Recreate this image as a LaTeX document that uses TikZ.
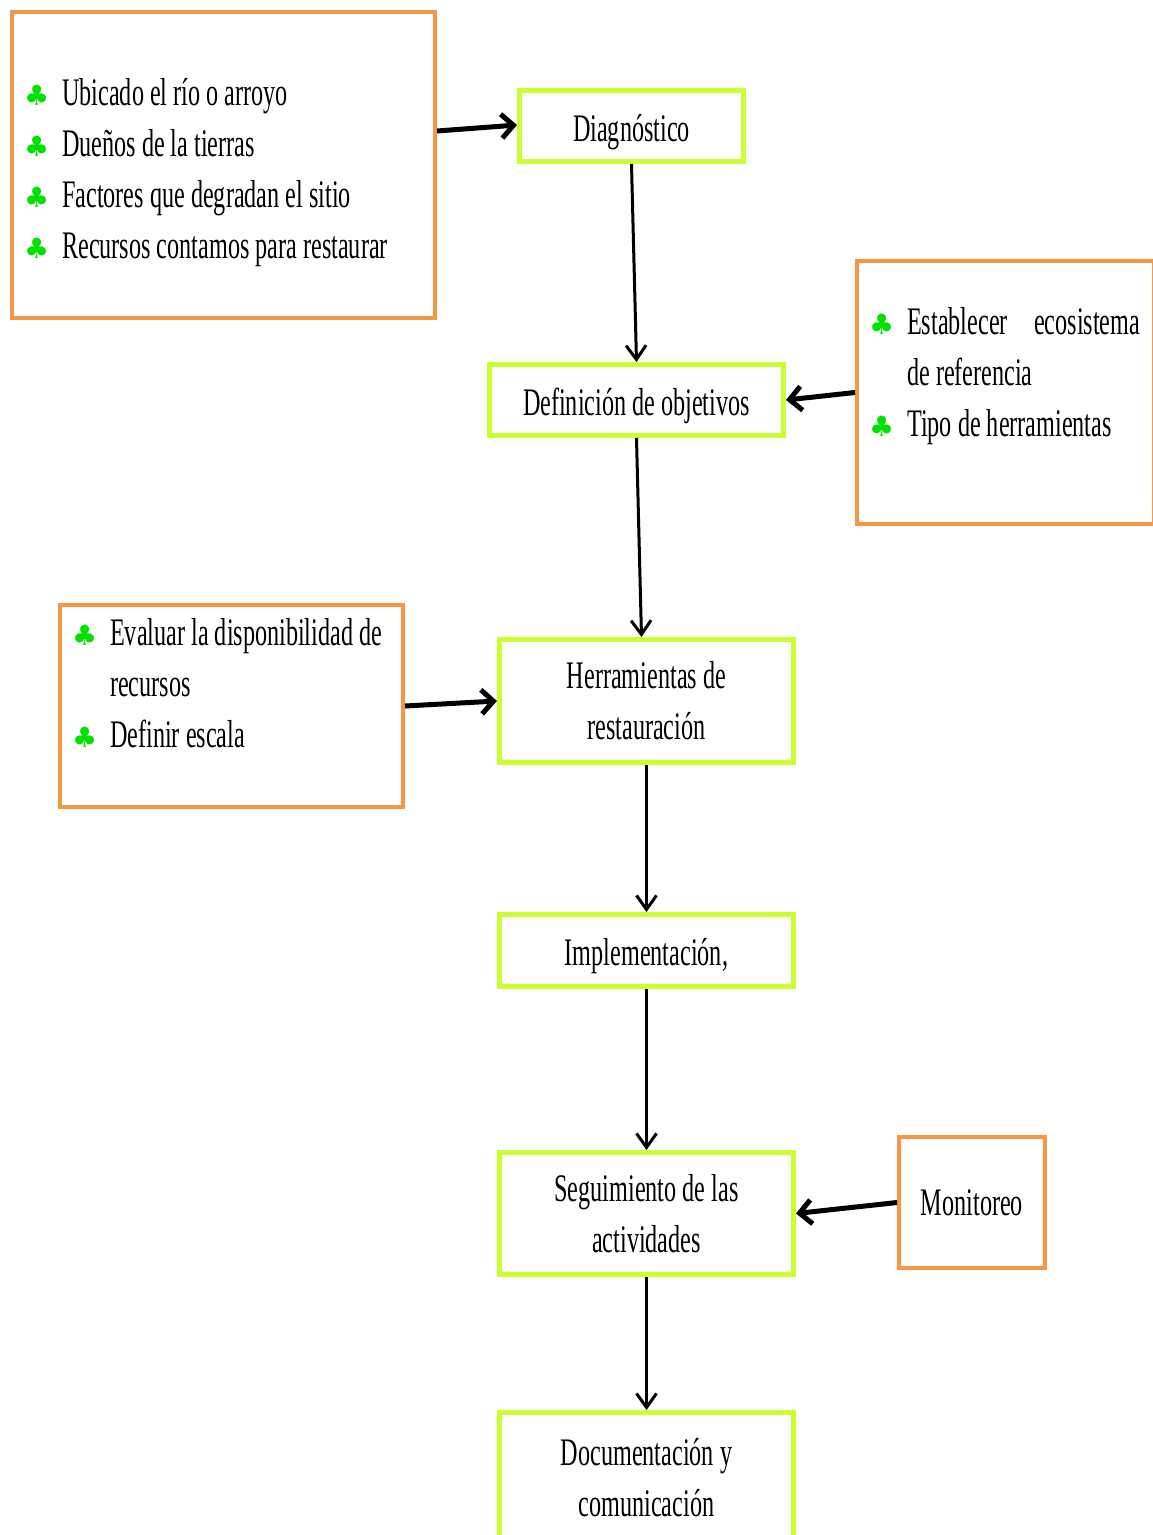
\documentclass[tikz,border=0pt]{standalone}
\usepackage{fontspec}
\setmainfont{Liberation Serif}[FakeStretch=0.62]
\newfontfamily\simbolos{DejaVu Sans}
\usepackage{array}
\usetikzlibrary{arrows.meta,positioning,calc}

\definecolor{naranja}{RGB}{247,150,70}
\definecolor{lima}{RGB}{204,255,51}
\definecolor{trebol}{RGB}{0,225,0}
\newcommand{\trebol}{\makebox[38pt][l]{\simbolos\fontsize{28}{28}\selectfont\color{trebol}♣}}

\tikzset{
  pasobox/.style={draw=lima,line width=5pt,align=center,inner sep=0pt,
    font=\fontsize{39}{51}\selectfont},
  unalinea/.style={text height=30pt,text depth=0pt},
  notabox/.style={draw=naranja,line width=4pt,inner sep=0pt,
    font=\fontsize{39}{51}\selectfont},
  listatext/.style={anchor=base west,inner sep=0pt,font=\fontsize{39}{51}\selectfont},
  flechalado/.style={-{Straight Barb[length=12pt,width=24pt]},line width=5pt},
  flechabajo/.style={-{Straight Barb[length=14pt,width=20pt]},line width=3pt}
}

\begin{document}
\begin{tikzpicture}[x=1pt,y=-1pt]
  \useasboundingbox (0,0) rectangle (1152,1535);

  % pasos
  \node[pasobox,unalinea,minimum width=224pt,minimum height=71pt] (diag) at (631.5,126) {Diagnóstico};
  \node[pasobox,unalinea,minimum width=294pt,minimum height=71pt] (objetivos) at (636.5,400) {Definición de objetivos};
  \node[pasobox,minimum width=294pt,minimum height=123pt] (herram) at (646.5,701) {Herramientas de\\restauración};
  \node[pasobox,unalinea,minimum width=294pt,minimum height=72pt] (implem) at (646.5,950.5) {Implementación,};
  \node[pasobox,minimum width=294pt,minimum height=122pt] (seguim) at (646.5,1213.5) {Seguimiento de las\\actividades};
  \node[pasobox,minimum width=294pt,minimum height=130pt] (docum) at (646.5,1477.5) {Documentación y\\comunicación};

  % cajas laterales
  \node[notabox,minimum width=423pt,minimum height=306pt] (cajaA) at (223.5,165) {};
  \node[notabox,minimum width=297pt,minimum height=263pt] (cajaB) at (1005.5,392.5) {};
  \node[notabox,minimum width=343pt,minimum height=202pt] (cajaC) at (231.5,706) {};
  \node[notabox,minimum width=146pt,minimum height=131pt] (monitoreo) at (972,1202.5) {Monitoreo};

  % listas
  \node[listatext] (listaA) at (24,105) {\begin{tabular}[t]{@{}l@{}l@{}}
    \trebol & Ubicado el río o arroyo\\
    \trebol & Dueños de la tierras\\
    \trebol & Factores que degradan el sitio\\
    \trebol & Recursos contamos para restaurar
  \end{tabular}};
  \node[listatext] (listaB) at (869,334) {\begin{tabular}[t]{@{}l@{}l@{}}
    \trebol & \makebox[233pt][s]{Establecer ecosistema}\\
            & de referencia\\
    \trebol & Tipo de herramientas
  \end{tabular}};
  \node[listatext] (listaC) at (72,645) {\begin{tabular}[t]{@{}l@{}l@{}}
    \trebol & Evaluar la disponibilidad de\\
            & recursos\\
    \trebol & Definir escala
  \end{tabular}};

  % flechas
  \draw[flechalado] ([yshift=34pt]cajaA.east) -- ([yshift=1pt]diag.west);
  \draw[flechabajo] (diag.south) -- (objetivos.north);
  \draw[flechalado] (cajaB.west) -- (objetivos.east);
  \draw[flechabajo] (objetivos.south) -- ([xshift=-5pt]herram.north);
  \draw[flechalado] (cajaC.east) -- (herram.west);
  \draw[flechabajo] (herram.south) -- (implem.north);
  \draw[flechabajo] (implem.south) -- (seguim.north);
  \draw[flechalado] (monitoreo.west) -- (seguim.east);
  \draw[flechabajo] (seguim.south) -- (docum.north);
\end{tikzpicture}
\end{document}
